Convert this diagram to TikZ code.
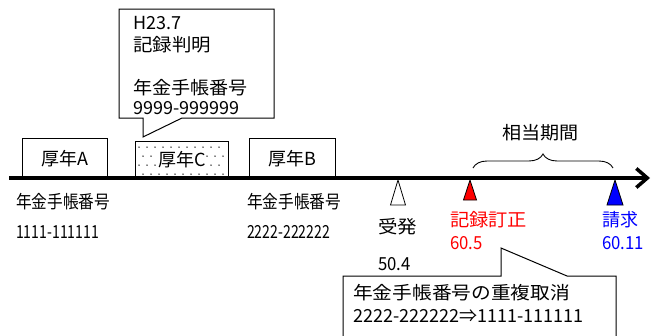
\documentclass[tikz,border=0pt]{standalone}
\usepackage{fontspec}
\setmainfont{Noto Sans CJK JP}
\usetikzlibrary{arrows.meta,decorations.pathreplacing}
\newcommand\wx[2]{\scalebox{#1}[1]{#2}}
\begin{document}
\begin{tikzpicture}[x=1pt,y=-1pt,
  txt/.style={anchor=base west,inner sep=0pt,font=\fontsize{18pt}{20pt}\selectfont},
  periodbox/.style={draw=black,line width=1pt,fill=white,inner sep=0pt,anchor=north west,
    font=\fontsize{18pt}{20pt}\selectfont},
  marker/.style={draw=black,line width=0.8pt,line join=miter},
  callout/.style={draw=black,line width=1pt,fill=white,line join=miter},
  redtxt/.style={txt,text=red},
  bluetxt/.style={txt,text=blue},
]
\useasboundingbox[fill=white] (0,0) rectangle (651,335);

% period boxes
\node[periodbox,minimum width=85pt,minimum height=40pt] (boxA) at (22,138) {厚年A};
\node[periodbox,minimum width=86pt,minimum height=40pt] (boxB) at (249,138) {厚年B};
\node[periodbox,minimum width=93pt,minimum height=37pt] (boxC) at (135,141) {};
\foreach \r/\yy in {0/147,1/156,2/165,3/174}{
  \pgfmathsetmacro\off{mod(\r,2)*4}
  \foreach \i in {0,...,10}{
    \fill[black] (139+\off+8*\i,\yy) circle (0.75pt);
  }
}
\node[inner sep=0.5pt,fill=white,font=\fontsize{18pt}{20pt}\selectfont] (txtC) at (boxC.center) {厚年C};

% timeline
\coordinate (tlS) at (9,178);
\coordinate (tlE) at (650,178);
\draw[line width=3.5pt,-{Straight Barb[length=11pt,width=19pt]}] (tlS) -- (tlE);

% markers
\coordinate (mW) at (398,180);
\coordinate (mR) at (470,180);
\coordinate (mB) at (615,180);
\draw[marker,fill=white] (mW) -- ++(-7.5,25) -- ++(15,0) -- cycle;
\draw[marker,fill=red] (mR) -- ++(-6.5,20) -- ++(13,0) -- cycle;
\draw[marker,fill=blue] (mB) -- ++(-8,25) -- ++(16,0) -- cycle;

% brace
\coordinate (br1) at (473,168);
\coordinate (br2) at (613,168);
\draw[line width=0.9pt,decorate,decoration={brace,amplitude=14pt}] (br1) -- (br2);
\node[txt] (period) at (502,139.7) {\wx{1.06}{相当期間}};

% top callout
\draw[callout] (119,9) -- (274,9) -- (274,118) -- (182,118) -- (143,137) -- (143,118) -- (119,118) -- cycle;
\node[txt] (c1) at (133,29.6) {H23.7};
\node[txt] (c2) at (133,51.7) {\wx{1.08}{記録判明}};
\node[txt] (c3) at (133,94.7) {\wx{1.06}{年金手帳番号}};
\node[txt] (c4) at (133,114.6) {9999-999999};

% labels under timeline
\node[txt] (a1) at (16,208.7) {\wx{0.87}{年金手帳番号}};
\node[txt] (a2) at (16,238.6) {\wx{0.78}{1111-111111}};
\node[txt] (b1) at (247,208.7) {\wx{0.87}{年金手帳番号}};
\node[txt] (b2) at (247,238.6) {\wx{0.78}{2222-222222}};

\node[txt] (w1) at (378,233.7) {\wx{1.08}{受発}};
\node[txt] (w2) at (378,270.6) {\wx{0.93}{50.4}};
\node[redtxt] (r1) at (450,226.7) {\wx{1.07}{記録訂正}};
\node[redtxt] (r2) at (450,249.6) {\wx{0.93}{60.5}};
\node[bluetxt] (u1) at (602,226.7) {請求};
\node[bluetxt] (u2) at (602,249.6) {\wx{0.93}{60.11}};

% bottom callout
\draw[callout] (343,336) -- (343,276) -- (501,276) -- (501,248) -- (567,276) -- (616,276) -- (616,336);
\node[txt] (d1) at (353,299.7) {\wx{1.095}{年金手帳番号の重複取消}};
\node[txt] (d2) at (353,322.6) {2222-222222⇒1111-111111};
\end{tikzpicture}
\end{document}
